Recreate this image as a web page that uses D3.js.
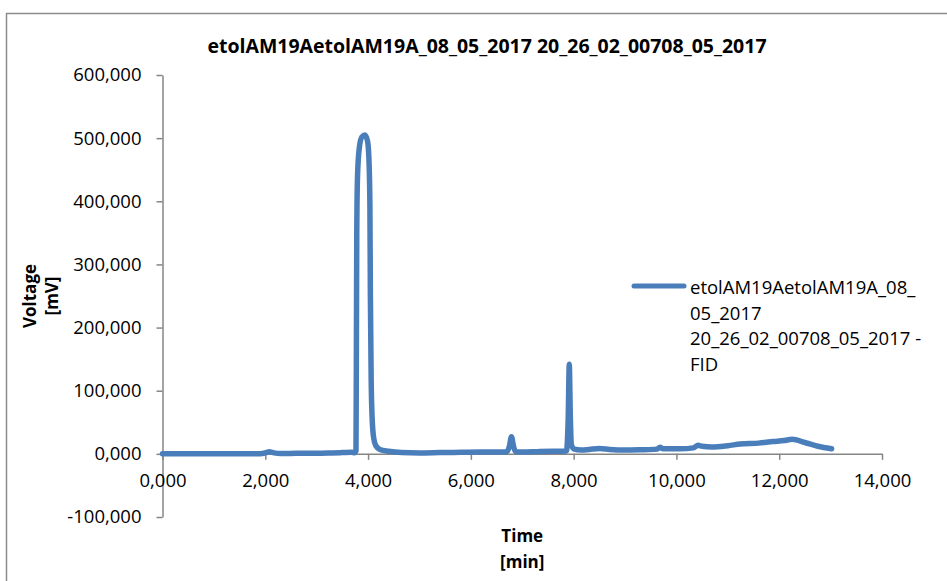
<!DOCTYPE html>
<html>
<head>
<meta charset="utf-8">
<script src="https://cdn.jsdelivr.net/npm/d3@7"></script>
<style>
  body { margin: 0; background: #fff; }
  svg { display: block; font-family: "Open Sans", sans-serif; }
</style>
</head>
<body>
<div id="chart"></div>
<script>
// chromatogram: time [min], voltage [mV]
const times = [
  0, 0.5, 1, 1.5, 1.9, 2.0, 2.08, 2.17, 2.3, 2.6, 3.0, 3.3, 3.5, 3.68,
  3.74, 3.765, 3.772, 3.78, 3.795, 3.83, 3.88, 3.94, 3.99, 4.015, 4.035, 4.045, 4.06, 4.08,
  4.11, 4.15, 4.23, 4.4, 4.65, 5.0, 5.4, 5.8, 6.2, 6.5, 6.7, 6.75, 6.79, 6.83, 6.87,
  7.0, 7.3, 7.6, 7.86, 7.895, 7.915, 7.935, 7.955, 8.0, 8.15, 8.3, 8.5, 8.7, 9.0,
  9.3, 9.62, 9.68, 9.74, 10.07, 10.33, 10.42, 10.5, 10.69, 11.0, 11.24, 11.6, 11.88,
  12.1, 12.25, 12.5, 12.75, 13.02
];
const voltages = [
  0, 0, 0, 0.2, 0.3, 1.5, 3.2, 1.5, 0.6, 0.8, 0.9, 1.5, 2.0, 2.5,
  1.8, 5, 150, 350, 440, 485, 502, 505, 495, 470, 400, 250, 120, 55,
  25, 13, 7, 4, 2, 1.5, 2, 2.5, 2.8, 3, 3.5, 12, 27, 12, 3.5,
  3, 3.5, 4, 4.5, 60, 142, 60, 15, 8, 6, 7, 8.5, 7, 6,
  6.5, 7.5, 10.5, 8, 8, 9.5, 13.5, 12, 11, 13, 15.5, 17, 19.5,
  21, 23, 18, 12, 8
];
const xTicks = [0, 2, 4, 6, 8, 10, 12, 14];
const yTicks = [-100, 0, 100, 200, 300, 400, 500, 600];
const seriesName = ['etolAM19AetolAM19A_08_', '05_2017', '20_26_02_00708_05_2017 -', 'FID'];
const title = 'etolAM19AetolAM19A_08_05_2017 20_26_02_00708_05_2017';

const width = 947, height = 581;
const plot = { left: 162.5, right: 882, top: 75, bottom: 517 };
const lineColor = '#4a7ebb';
const axisColor = '#868686';

const locale = d3.formatLocale({ decimal: ',', thousands: '.', grouping: [3], currency: ['', ''], minus: '-' });
const fmt = locale.format('.3f');

const svg = d3.select('#chart').append('svg')
  .attr('width', width)
  .attr('height', height);

// chart frame
svg.append('rect')
  .attr('x', 6.5).attr('y', 13.5)
  .attr('width', width + 20).attr('height', height + 20)
  .attr('fill', 'none')
  .attr('stroke', '#8c8c8c')
  .attr('stroke-width', 1.5);

const x = d3.scaleLinear().domain([0, 14]).range([plot.left, plot.right]);
const y = d3.scaleLinear().domain([-100, 600]).range([plot.bottom, plot.top]);

// y axis
const yAxis = svg.append('g')
  .attr('transform', `translate(${plot.left},0)`)
  .call(d3.axisLeft(y).tickValues(yTicks).tickFormat(fmt).tickSize(6).tickSizeOuter(0).tickPadding(15));

// x axis sits on zero
const xAxis = svg.append('g')
  .attr('transform', `translate(0,${y(0)})`)
  .call(d3.axisBottom(x).tickValues(xTicks).tickFormat(fmt).tickSize(6).tickSizeOuter(0).tickPadding(14));

[yAxis, xAxis].forEach(g => {
  g.select('.domain').attr('stroke', axisColor).attr('stroke-width', 1.5);
  g.selectAll('.tick line').attr('stroke', axisColor).attr('stroke-width', 1.5);
  g.selectAll('.tick text')
    .attr('fill', '#000')
    .style('font-size', '18.5px')
    .style('font-family', '"Open Sans", sans-serif');
});

// series
const data = times.map((t, i) => ({ t, v: voltages[i] }));
const line = d3.line().x(d => x(d.t)).y(d => y(d.v)).curve(d3.curveMonotoneX);

svg.append('path')
  .datum(data)
  .attr('d', line)
  .attr('fill', 'none')
  .attr('stroke', lineColor)
  .attr('stroke-width', 5.5)
  .attr('stroke-linejoin', 'round')
  .attr('stroke-linecap', 'round');

// title
svg.append('text')
  .attr('x', 487).attr('y', 53)
  .attr('text-anchor', 'middle')
  .style('font-weight', 'bold')
  .style('font-size', '19.5px')
  .text(title);

// axis titles
const yTitle = svg.append('text')
  .attr('transform', `translate(36,${(plot.top + plot.bottom) / 2}) rotate(-90)`)
  .attr('text-anchor', 'middle')
  .style('font-weight', 'bold')
  .style('font-size', '17px');
yTitle.append('tspan').attr('x', 0).attr('dy', 0).text('Voltage');
yTitle.append('tspan').attr('x', 0).attr('dy', 22).text('[mV]');

const xTitle = svg.append('text')
  .attr('x', (plot.left + plot.right) / 2).attr('y', 542)
  .attr('text-anchor', 'middle')
  .style('font-weight', 'bold')
  .style('font-size', '17px');
xTitle.append('tspan').attr('x', (plot.left + plot.right) / 2).attr('dy', 0).text('Time');
xTitle.append('tspan').attr('x', (plot.left + plot.right) / 2).attr('dy', 26).text('[min]');

// legend
const legend = svg.append('g').attr('transform', 'translate(632,286)');
legend.append('line')
  .attr('x1', 2).attr('x2', 52)
  .attr('stroke', lineColor)
  .attr('stroke-width', 5)
  .attr('stroke-linecap', 'round');
legend.append('text')
  .attr('x', 58).attr('y', 8)
  .style('font-size', '18.5px')
  .selectAll('tspan')
  .data(seriesName)
  .join('tspan')
  .attr('x', 58)
  .attr('dy', (d, i) => i === 0 ? 0 : 25.5)
  .text(d => d);
</script>
</body>
</html>
